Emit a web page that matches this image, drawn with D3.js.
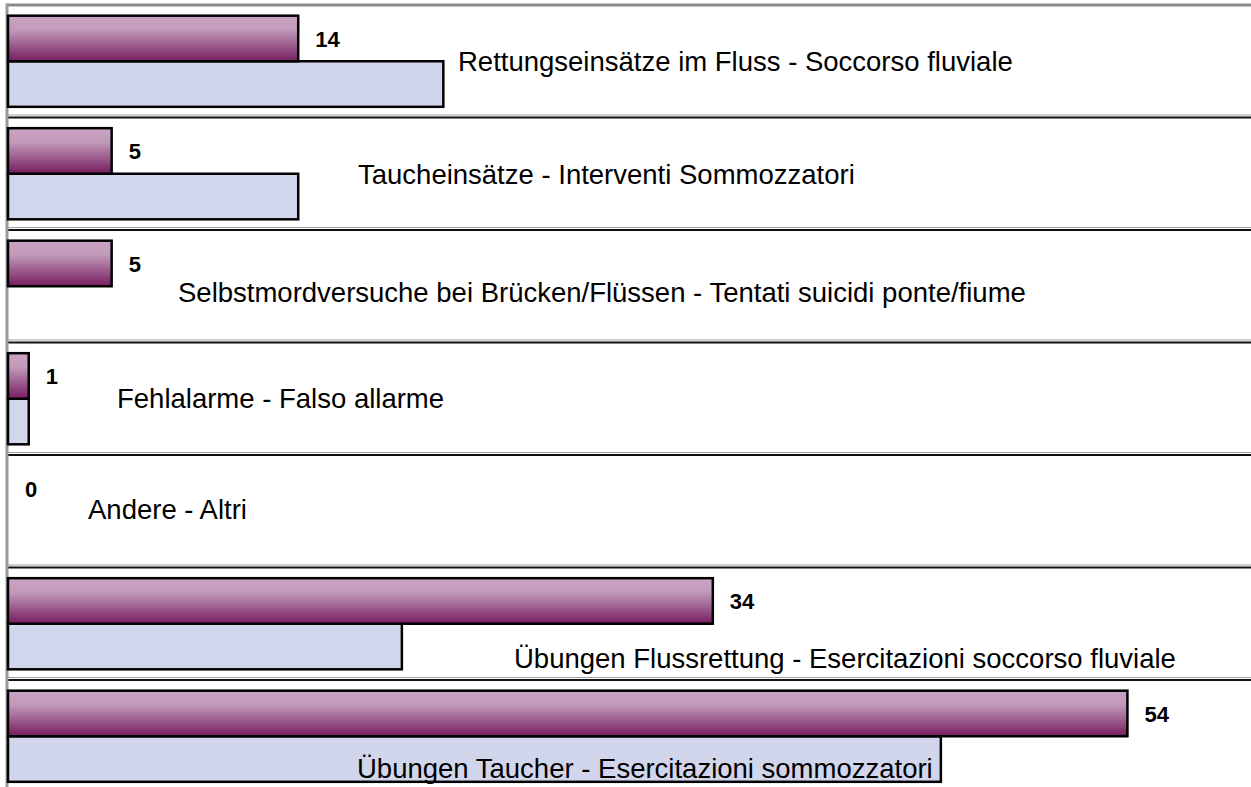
<!DOCTYPE html>
<html>
<head>
<meta charset="utf-8">
<script src="https://cdn.jsdelivr.net/npm/d3@7"></script>
<style>
  html, body { margin: 0; padding: 0; background: #fff; }
  svg { display: block; font-family: "Liberation Sans", Arial, sans-serif; }
</style>
</head>
<body>
<div id="chart"></div>
<script>
// Data
const categories = [
  'Rettungseinsätze im Fluss - Soccorso fluviale',
  'Taucheinsätze - Interventi Sommozzatori',
  'Selbstmordversuche bei Brücken/Flüssen - Tentati suicidi ponte/fiume',
  'Fehlalarme - Falso allarme',
  'Andere - Altri',
  'Übungen Flussrettung - Esercitazioni soccorso fluviale',
  'Übungen Taucher - Esercitazioni sommozzatori'
]
const currentValues = [14, 5, 5, 1, 0, 34, 54]
const previousValues = [21, 14, 0, 1, 0, 19, 45]
const series = ['current', 'previous']

// Where each category text sits: [x in px, baseline offset inside its band]
const labelPlacement = [[458, 65.5], [358, 66], [178, 72], [117, 65.5], [88, 63.5], [514, 100.5], [357, 98]]

;(({ width, height, top, left }) => {
  const svg = d3.select('#chart')
    .append('svg')
    .attr('width', width)
    .attr('height', height)

  const defs = svg.append('defs')
  const grad = defs.append('linearGradient')
    .attr('id', 'purple')
    .attr('x1', 0).attr('y1', 0).attr('x2', 0).attr('y2', 1)
  grad.append('stop').attr('offset', '0%').attr('stop-color', '#caa3c4')
  grad.append('stop').attr('offset', '30%').attr('stop-color', '#c29bbb')
  grad.append('stop').attr('offset', '100%').attr('stop-color', '#761c5f')

  const pat = defs.append('pattern')
    .attr('id', 'dots')
    .attr('width', 2).attr('height', 2)
    .attr('patternUnits', 'userSpaceOnUse')
  pat.append('rect').attr('width', 2).attr('height', 2).attr('fill', '#dde0f1')
  pat.append('rect').attr('width', 1).attr('height', 1).attr('fill', '#c3c8e4')
  pat.append('rect').attr('x', 1).attr('y', 1).attr('width', 1).attr('height', 1).attr('fill', '#c9cde7')

  const x = d3.scaleLinear().domain([0, 60]).range([left, left + 60 * 20.73])
  const y = d3.scaleBand()
    .domain(categories)
    .range([top, top + categories.length * 112.5])
    .paddingInner(0.19)
    .paddingOuter(0.095)
  const sub = d3.scaleBand().domain(series).range([0, y.bandwidth()])
  const gap = y.step() * 0.095

  // Row separators (thin grey line over a black one)
  const seps = svg.selectAll('g.sep')
    .data(categories.slice(1))
    .enter()
    .append('g')
    .attr('class', 'sep')
    .attr('transform', d => `translate(0,${y(d) - gap})`)
  seps.append('line')
    .attr('x1', left).attr('x2', width)
    .attr('y1', -2.5).attr('y2', -2.5)
    .attr('stroke', '#a0a0a0')
    .attr('stroke-width', 1)
  seps.append('line')
    .attr('x1', left).attr('x2', width)
    .attr('y1', 0).attr('y2', 0)
    .attr('stroke', '#111')
    .attr('stroke-width', 2)

  // Frame
  svg.append('line')
    .attr('x1', left - 1).attr('x2', width)
    .attr('y1', top).attr('y2', top)
    .attr('stroke', '#8a8a8a').attr('stroke-width', 3)
  svg.append('line')
    .attr('x1', left - 1).attr('x2', left - 1)
    .attr('y1', top - 1.5).attr('y2', height)
    .attr('stroke', '#9a9a9a').attr('stroke-width', 3)

  const rows = svg.selectAll('g.row')
    .data(categories.map((c, i) => ({ c, i, cur: currentValues[i], prev: previousValues[i] })))
    .enter()
    .append('g')
    .attr('class', 'row')
    .attr('transform', d => `translate(0,${y(d.c)})`)

  // Previous (dotted) bars
  rows.filter(d => d.prev > 0)
    .append('rect')
    .attr('x', x(0))
    .attr('y', sub('previous'))
    .attr('width', d => x(d.prev) - x(0))
    .attr('height', sub.bandwidth())
    .attr('fill', 'url(#dots)')
    .attr('stroke', '#000')
    .attr('stroke-width', 2.5)

  // Current (gradient) bars
  rows.filter(d => d.cur > 0)
    .append('rect')
    .attr('x', x(0))
    .attr('y', sub('current'))
    .attr('width', d => x(d.cur) - x(0))
    .attr('height', sub.bandwidth())
    .attr('fill', 'url(#purple)')
    .attr('stroke', '#000')
    .attr('stroke-width', 2.5)

  // Value labels
  rows.append('text')
    .attr('x', d => x(d.cur) + 17)
    .attr('y', sub('current') + sub.bandwidth() / 2 + 8.5)
    .attr('font-size', 22)
    .attr('font-weight', 'bold')
    .attr('fill', '#000')
    .text(d => d.cur)

  // Category labels
  rows.append('text')
    .attr('x', d => labelPlacement[d.i][0])
    .attr('y', d => labelPlacement[d.i][1] - gap)
    .attr('font-size', 27.5)
    .attr('fill', '#000')
    .text(d => d.c)
})({ width: 1251, height: 787, top: 5, left: 8 })
</script>
</body>
</html>
